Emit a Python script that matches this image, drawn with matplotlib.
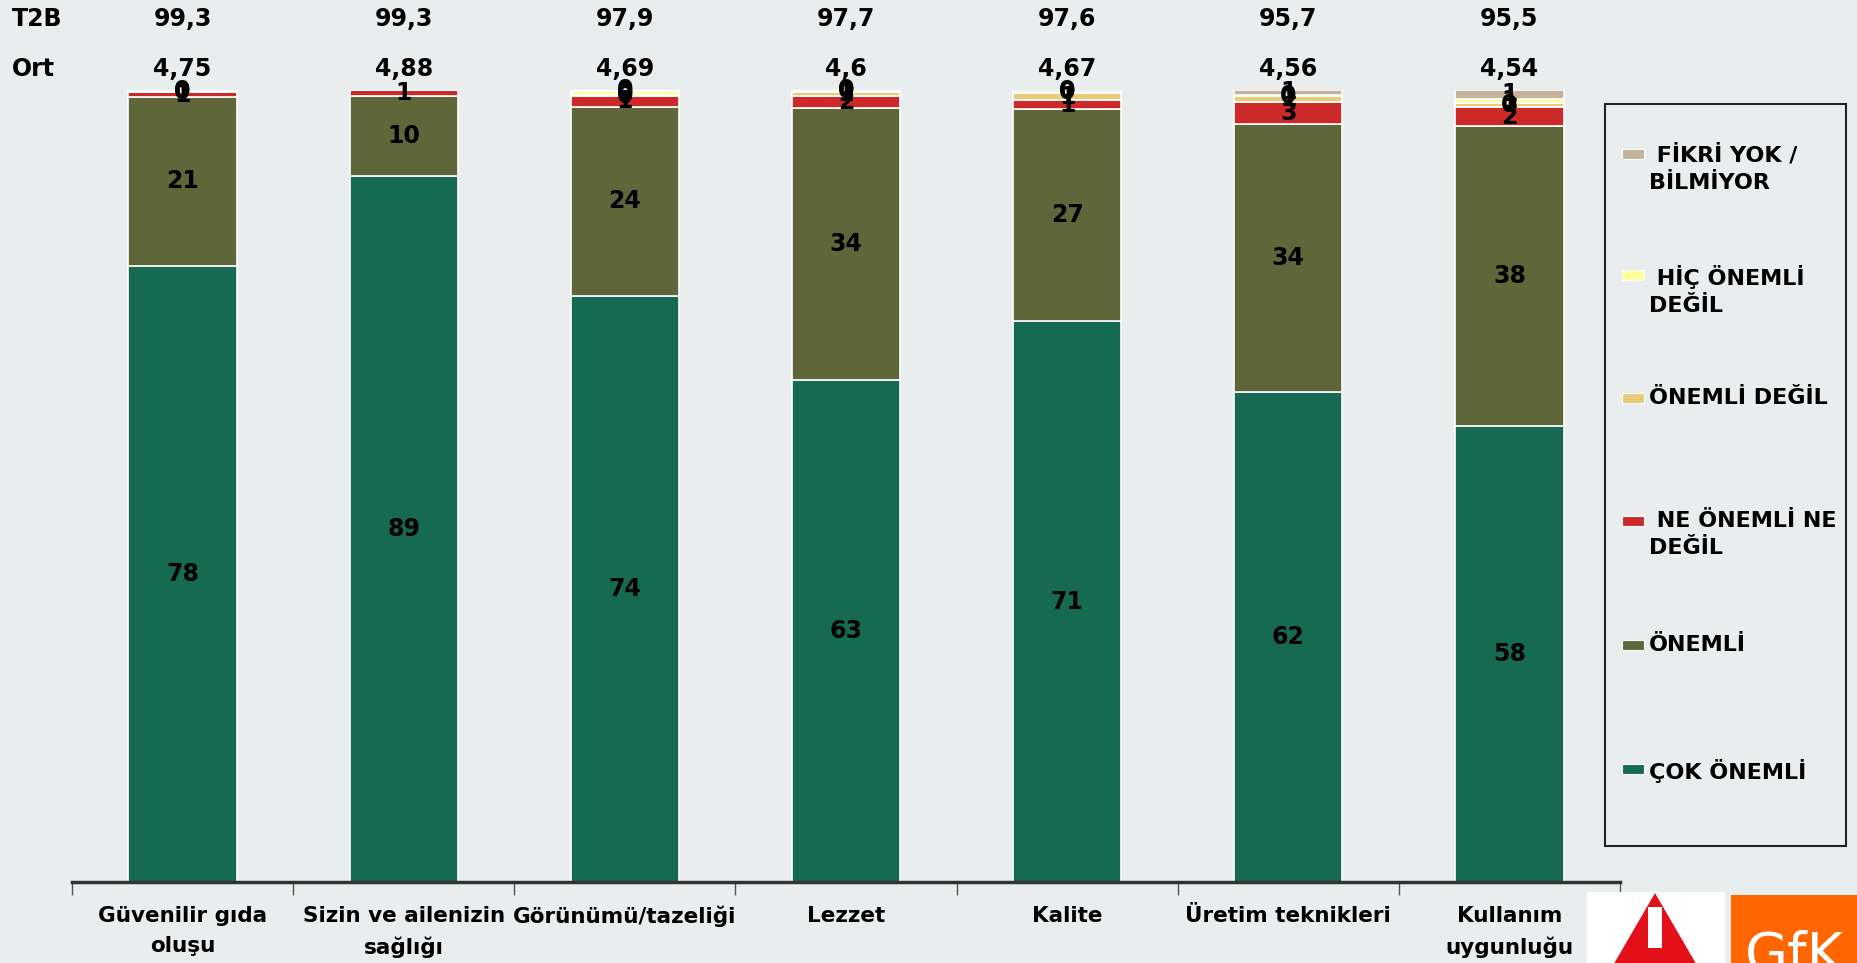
import matplotlib
matplotlib.use("Agg")
import matplotlib.pyplot as plt
from matplotlib.patches import Rectangle, Polygon
import numpy as np

W, H = 1857, 963

categories = ["Güvenilir gıda\noluşu", "Sizin ve ailenizin\nsağlığı", "Görünümü/tazeliği",
              "Lezzet", "Kalite", "Üretim teknikleri", "Kullanım\nuygunluğu"]
t2b = ["99,3", "99,3", "97,9", "97,7", "97,6", "95,7", "95,5"]
ort = ["4,75", "4,88", "4,69", "4,6", "4,67", "4,56", "4,54"]

cok_onemli = [77.8, 89.2, 74.0, 63.4, 70.8, 61.9, 57.6]
onemli = [21.3, 10.1, 23.9, 34.3, 26.8, 33.8, 37.9]
ne_onemli_ne_degil = [0.6, 0.7, 1.3, 1.5, 1.1, 2.8, 2.3]
onemli_degil = [0.1, 0.0, 0.2, 0.6, 0.9, 0.7, 0.5]
hic_onemli_degil = [0.2, 0.0, 0.5, 0.1, 0.2, 0.2, 0.6]
fikri_yok = [0.0, 0.0, 0.1, 0.1, 0.2, 0.6, 1.1]

series = [
    ("ÇOK ÖNEMLİ", cok_onemli, "#176A52"),
    ("ÖNEMLİ", onemli, "#5F673A"),
    (" NE ÖNEMLİ NE\nDEĞİL", ne_onemli_ne_degil, "#CC2A2A"),
    ("ÖNEMLİ DEĞİL", onemli_degil, "#E8CC78"),
    (" HİÇ ÖNEMLİ\nDEĞİL", hic_onemli_degil, "#FFFF99"),
    (" FİKRİ YOK /\nBİLMİYOR", fikri_yok, "#C4B29A"),
]

BG = "#E9EDEE"
plt.rcParams["font.family"] = "DejaVu Sans"


def fx(x):
    return x / W


def fy(y):
    return 1 - y / H


fig = plt.figure(figsize=(W / 100, H / 100), dpi=100, facecolor=BG)
ax = fig.add_axes([fx(72), fy(882), fx(1620) - fx(72), fy(90) - fy(882)])
ax.set_facecolor(BG)

x = np.arange(len(categories))
bottom = np.zeros(len(categories))
for name, vals, color in series:
    vals = np.array(vals)
    ax.bar(x, vals, 0.49, bottom=bottom, color=color, edgecolor="white", linewidth=1.2)
    for xi, v, b in zip(x, vals, bottom):
        if v > 0:
            ax.text(xi, b + v / 2, f"{v:.0f}", ha="center", va="center",
                    fontsize=17, fontweight="bold", color="black")
    bottom += vals

ax.set_xlim(-0.5, len(categories) - 0.5)
ax.set_ylim(0, 100)
for s in ["top", "right", "left"]:
    ax.spines[s].set_visible(False)
ax.spines["bottom"].set_color("#333333")
ax.spines["bottom"].set_linewidth(2.5)
ax.set_yticks([])
ax.set_xticks(x)
ax.set_xticklabels(categories, fontsize=15.5, fontweight="bold", linespacing=1.65)
ax.tick_params(axis="x", which="major", length=0, pad=17)
ax.set_xticks(np.arange(-0.5, len(categories), 1.0), minor=True)
ax.tick_params(axis="x", which="minor", length=9, width=1, color="#555555", direction="out")

# T2B / Ort rows above the bars
trans = matplotlib.transforms.blended_transform_factory(ax.transData, fig.transFigure)
fig.text(fx(12), fy(19), "T2B", ha="left", va="center", fontsize=17, fontweight="bold")
fig.text(fx(12), fy(69), "Ort", ha="left", va="center", fontsize=17, fontweight="bold")
for xi, a, b in zip(x, t2b, ort):
    ax.text(xi, fy(19), a, transform=trans, ha="center", va="center", fontsize=17, fontweight="bold")
    ax.text(xi, fy(69), b, transform=trans, ha="center", va="center", fontsize=17, fontweight="bold")

# legend box
fig.patches.append(Rectangle((fx(1605), fy(846)), fx(1846) - fx(1605), fy(104) - fy(846),
                             transform=fig.transFigure, facecolor=BG, edgecolor="#222222", linewidth=1.5))
legend_y = [154, 275, 398, 521, 645, 769]
for (name, vals, color), ly in zip(series[::-1], legend_y):
    fig.patches.append(Rectangle((fx(1622), fy(ly + 5)), fx(1644) - fx(1622), fy(ly - 5) - fy(ly + 5),
                                 transform=fig.transFigure, facecolor=color, edgecolor="white", linewidth=0.8))
    fig.text(fx(1649), fy(ly - 10), name, ha="left", va="top", fontsize=16,
             fontweight="bold", linespacing=1.45)

# logos in the lower right corner
fig.patches.append(Rectangle((fx(1587), 0), fx(1725) - fx(1587), fy(892),
                             transform=fig.transFigure, facecolor="white", edgecolor="none"))
fig.patches.append(Polygon([(fx(1655), fy(893)), (fx(1590), fy(1005)), (fx(1720), fy(1005))],
                           closed=True, transform=fig.transFigure, facecolor="#E3101A", edgecolor="none"))
fig.patches.append(Rectangle((fx(1648), fy(948)), fx(1662) - fx(1648), fy(907) - fy(948),
                             transform=fig.transFigure, facecolor="white", edgecolor="none"))
fig.patches.append(Rectangle((fx(1731), 0), 1 - fx(1731), fy(895),
                             transform=fig.transFigure, facecolor="#FF6600", edgecolor="none"))
fig.text(fx(1745), fy(930), "GfK", ha="left", va="top", fontsize=40, color="white")

fig.savefig("out.png", dpi=100, facecolor=BG)
